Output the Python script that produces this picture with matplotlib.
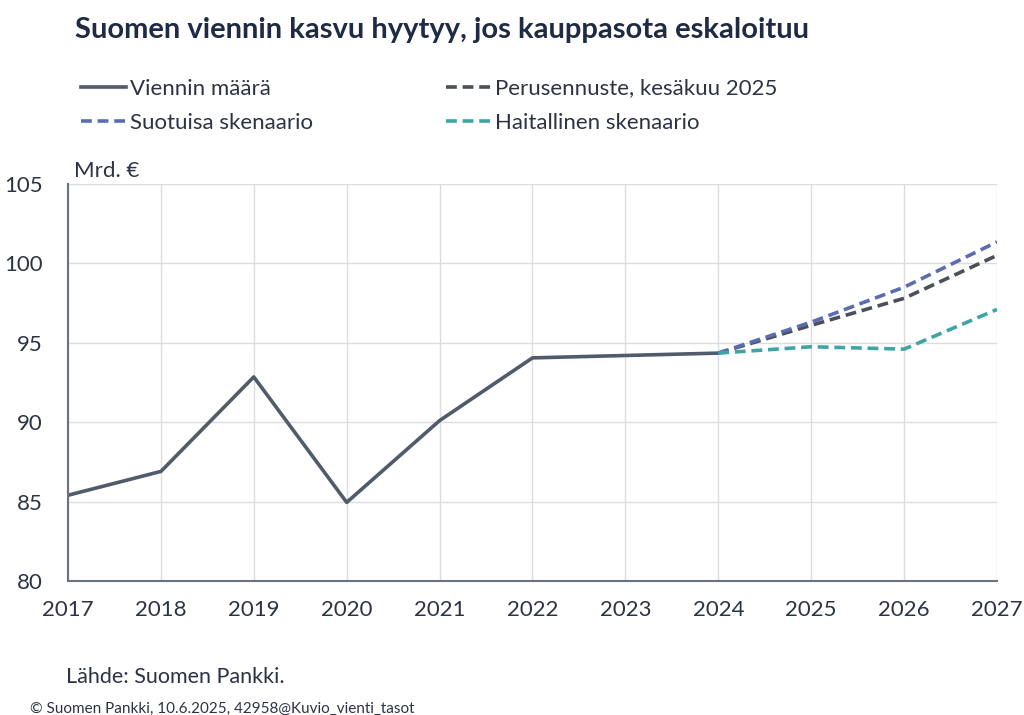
import matplotlib
matplotlib.use("Agg")
import matplotlib.pyplot as plt

years = [2017, 2018, 2019, 2020, 2021, 2022, 2023, 2024]
exports = [85.4, 86.9, 92.85, 84.95, 90.1, 94.05, 94.2, 94.35]

fc_years = [2024, 2025, 2026, 2027]
base = [94.35, 96.1, 97.8, 100.5]
favourable = [94.35, 96.3, 98.5, 101.35]
adverse = [94.35, 94.75, 94.6, 97.1]

TEXT = "#2b3345"
plt.rcParams["font.family"] = ["Lato", "DejaVu Sans"]

fig = plt.figure(figsize=(10.24, 7.15), dpi=100)
ax = fig.add_axes([0.0664, 0.1874, 0.9072, 0.5553])

ln1, = ax.plot(years, exports, color="#505b6b", lw=2.6, label="Viennin määrä")
ln2, = ax.plot(fc_years, base, color="#4b4f5a", lw=2.6, ls=(0, (3, 1.6)),
               label="Perusennuste, kesäkuu 2025")
ln3, = ax.plot(fc_years, favourable, color="#5b6db0", lw=2.6, ls=(0, (3, 1.6)),
               label="Suotuisa skenaario")
ln4, = ax.plot(fc_years, adverse, color="#3fa4a8", lw=2.6, ls=(0, (3, 1.6)),
               label="Haitallinen skenaario")

ax.set_xlim(2017, 2027)
ax.set_ylim(80, 105)
ax.set_xticks(range(2017, 2028))
ax.set_yticks(range(80, 106, 5))
ax.grid(True, color="#dcdde0", lw=1)
ax.set_axisbelow(True)
for s in ["top", "right"]:
    ax.spines[s].set_visible(False)
for s in ["left", "bottom"]:
    ax.spines[s].set_color("#6b7280")
    ax.spines[s].set_linewidth(1.5)
ax.tick_params(length=0, labelsize=16, colors=TEXT)
ax.tick_params(axis="x", pad=14)
ax.tick_params(axis="y", pad=18)

ax.text(0.007, 1.008, "Mrd. €", transform=ax.transAxes, fontsize=16,
        color=TEXT, va="bottom", ha="left")

fig.text(0.073, 0.958, "Suomen viennin kasvu hyytyy, jos kauppasota eskaloituu",
         fontsize=21, fontweight="bold", color="#1f2a44", va="center")

fig.legend(handles=[ln1, ln3, ln2, ln4], ncol=2, loc="upper left",
           bbox_to_anchor=(0.062, 0.915), frameon=False, fontsize=16,
           handlelength=2.0, handletextpad=0.2, columnspacing=6.0,
           labelspacing=0.65, labelcolor=TEXT, borderpad=0.3)

fig.text(0.064, 0.053, "Lähde: Suomen Pankki.", fontsize=15.5, color=TEXT,
         va="center")
fig.text(0.029, 0.009, "© Suomen Pankki, 10.6.2025, 42958@Kuvio_vienti_tasot",
         fontsize=11, color=TEXT, va="center")

fig.savefig("out.png", dpi=100)
